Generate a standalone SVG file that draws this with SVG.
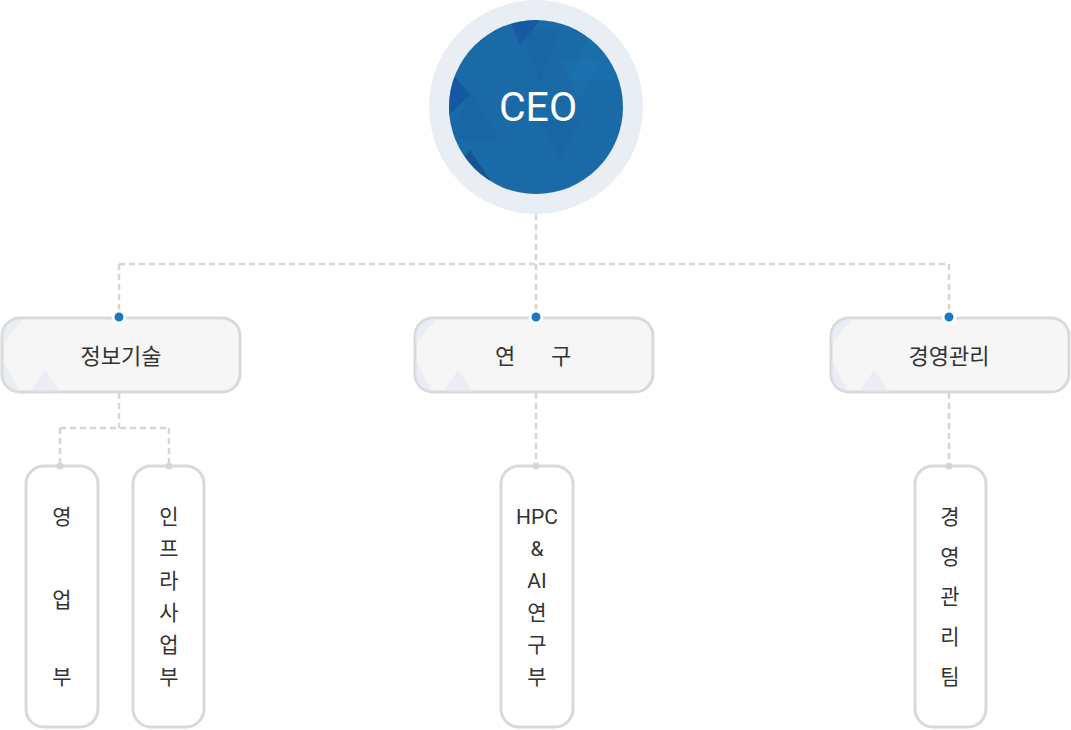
<svg xmlns="http://www.w3.org/2000/svg" width="1071" height="730" viewBox="0 0 1071 730">
<style>
.conn{fill:none;stroke:#d6d6d6;stroke-width:2.5;stroke-dasharray:6 4}
.mid{fill:#f6f6f6;stroke:#d9d9d9;stroke-width:3}
.leaf{fill:#ffffff;stroke:#d9d9d9;stroke-width:3}
.t{font-family:Roboto,"Noto Sans CJK KR",sans-serif;fill:#333333;text-anchor:middle}
.mt{font-size:22px}
.lt{font-size:21px}
.bdot{fill:#1878c4;stroke:#ffffff;stroke-width:3}
.gdot{fill:#d6d6d6}
.tri{fill:#dfe4f2;opacity:0.5}
</style>
<defs>
<clipPath id="ceoClip"><circle cx="536" cy="107" r="87"/></clipPath>
<clipPath id="c1"><rect x="2" y="318" width="238" height="74" rx="18"/></clipPath>
<clipPath id="c2"><rect x="415" y="318" width="238" height="74" rx="18"/></clipPath>
<clipPath id="c3"><rect x="831" y="318" width="238" height="74" rx="18"/></clipPath>
</defs>
<g id="connectors">
<path class="conn" d="M536 214 V264 M119 264 H949 M119 264 V317 M536 264 V317 M949 264 V317"/>
<path class="conn" d="M119 393 V428 M60 428 H169 M60 428 V466 M169 428 V466"/>
<path class="conn" d="M536 393 V466"/>
<path class="conn" d="M949 393 V466"/>
</g>
<g id="ceo">
<circle cx="536" cy="107" r="107" fill="#e8eef3"/>
<circle cx="536" cy="107" r="87" fill="#1a6aa8"/>
<g clip-path="url(#ceoClip)">
<polygon points="449,70 470,95 449,115" fill="#1450a0" opacity="0.7"/>
<polygon points="510,20 540,20 520,45" fill="#1450a0" opacity="0.6"/>
<polygon points="470,150 490,180 455,170" fill="#10407a" opacity="0.5"/>
<polygon points="520,30 560,30 540,80" fill="#145a90" opacity="0.25"/>
<polygon points="560,60 600,60 580,100" fill="#2080c0" opacity="0.2"/>
<polygon points="470,90 500,140 450,140" fill="#145a90" opacity="0.25"/>
<polygon points="540,120 580,120 560,160" fill="#145a90" opacity="0.2"/>
<polygon points="590,30 620,80 570,80" fill="#2080c0" opacity="0.2"/>
</g>
<text class="t" x="538" y="121" font-size="41" style="fill:#ffffff">CEO</text>
</g>
<g id="n-it">
<rect class="mid" x="2" y="318" width="238" height="74" rx="18"/>
<g clip-path="url(#c1)">
<polygon class="tri" points="2,320 22,320 2,345"/>
<polygon class="tri" points="2,360 20,392 2,392"/>
<polygon class="tri" points="30,392 45,370 60,392"/>
</g>
<circle class="bdot" cx="119" cy="317" r="6"/>
<text class="t mt" x="121" y="364">정보기술</text>
</g>
<g id="n-rnd">
<rect class="mid" x="415" y="318" width="238" height="74" rx="18"/>
<g clip-path="url(#c2)">
<polygon class="tri" points="415,320 435,320 415,345"/>
<polygon class="tri" points="415,360 433,392 415,392"/>
<polygon class="tri" points="443,392 458,370 473,392"/>
</g>
<circle class="bdot" cx="536" cy="317" r="6"/>
<text class="t mt" x="505" y="364">연</text>
<text class="t mt" x="561" y="364">구</text>
</g>
<g id="n-mgmt">
<rect class="mid" x="831" y="318" width="238" height="74" rx="18"/>
<g clip-path="url(#c3)">
<polygon class="tri" points="831,320 851,320 831,345"/>
<polygon class="tri" points="831,360 849,392 831,392"/>
<polygon class="tri" points="859,392 874,370 889,392"/>
</g>
<circle class="bdot" cx="949" cy="317" r="6"/>
<text class="t mt" x="949" y="364">경영관리</text>
</g>
<g id="n-sales">
<rect class="leaf" x="26" y="466" width="72" height="261" rx="18"/>
<circle class="gdot" cx="60" cy="466" r="3.5"/>
<text class="t lt" x="62" y="524">영</text>
<text class="t lt" x="62" y="607">업</text>
<text class="t lt" x="62" y="684">부</text>
</g>
<g id="n-infra">
<rect class="leaf" x="133" y="466" width="71" height="261" rx="18"/>
<circle class="gdot" cx="169" cy="466" r="3.5"/>
<text class="t lt" x="169" y="524">인</text>
<text class="t lt" x="169" y="556">프</text>
<text class="t lt" x="169" y="588">라</text>
<text class="t lt" x="169" y="620">사</text>
<text class="t lt" x="169" y="652">업</text>
<text class="t lt" x="169" y="684">부</text>
</g>
<g id="n-hpc">
<rect class="leaf" x="501" y="466" width="72" height="261" rx="18"/>
<circle class="gdot" cx="536" cy="466" r="3.5"/>
<text class="t lt" x="537" y="524">HPC</text>
<text class="t lt" x="537" y="556">&amp;</text>
<text class="t lt" x="537" y="588">AI</text>
<text class="t lt" x="537" y="620">연</text>
<text class="t lt" x="537" y="652">구</text>
<text class="t lt" x="537" y="684">부</text>
</g>
<g id="n-team">
<rect class="leaf" x="915" y="466" width="71" height="261" rx="18"/>
<circle class="gdot" cx="949" cy="466" r="3.5"/>
<text class="t lt" x="950" y="524">경</text>
<text class="t lt" x="950" y="564">영</text>
<text class="t lt" x="950" y="604">관</text>
<text class="t lt" x="950" y="644">리</text>
<text class="t lt" x="950" y="684">팀</text>
</g>
</svg>
